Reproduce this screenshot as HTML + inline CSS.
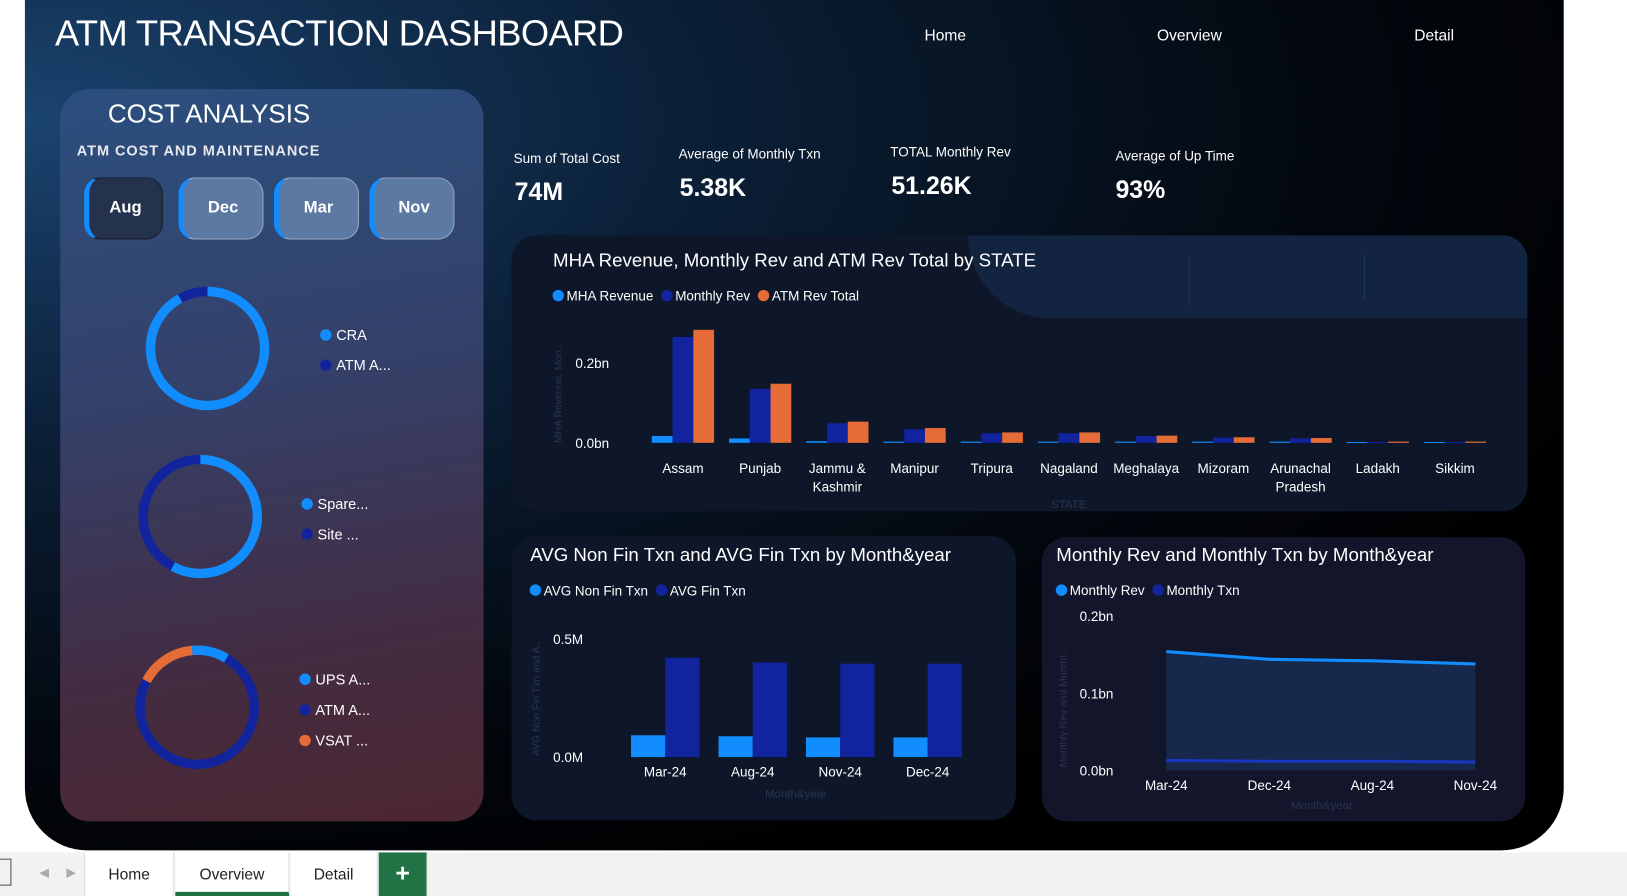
<!DOCTYPE html>
<html><head><meta charset="utf-8"><style>
html,body{margin:0;padding:0;width:1627px;height:896px;overflow:hidden;background:#fff;font-family:"Liberation Sans",sans-serif;}
#stage{position:absolute;left:0;top:0;width:1568px;height:864px;transform:scale(1.03763,1.03704);transform-origin:0 0;}
.abs{position:absolute;}
#main{left:24px;top:-60px;width:1483px;height:880px;border-radius:60px;background:radial-gradient(ellipse at 0% 20%,#1b4470 0%,#0b2038 30%,#03080f 60%,#000 80%);}
.w{color:#fff;}
#left{left:58px;top:86px;width:408px;height:706px;border-radius:28px;background:linear-gradient(170deg,#2b4f7e 0%,#34416a 40%,#432c42 75%,#4c2630 100%);}
.btn{top:171px;width:76px;height:60px;border-radius:16px;border:1px solid #9aa8c0;background:#5b79a3;color:#fff;font-weight:bold;font-size:16px;display:flex;align-items:center;justify-content:center;box-sizing:border-box;border-left:5px solid #118dff;}
.panel{background:#0d1729;border-radius:24px;}
.kl{font-size:13px;color:#fff;}
.kv{font-size:24px;color:#fff;font-weight:bold;}
.nav{font-size:15px;color:#fff;top:26px;}
#tabs{left:0;top:822px;width:1568px;height:42px;background:#f3f2f1;}
.tab{top:822px;height:42px;font-size:15px;color:#222;display:flex;align-items:center;justify-content:center;background:#fff;border-right:1px solid #ddd;box-sizing:border-box;}
svg text{font-family:"Liberation Sans",sans-serif;}
</style></head><body>
<div id="stage">
<div id="main" class="abs"></div>
<div class="abs w" style="left:53px;top:13px;font-size:35px;letter-spacing:-0.6px">ATM TRANSACTION DASHBOARD</div>
<div class="abs nav" style="left:891px">Home</div>
<div class="abs nav" style="left:1115px">Overview</div>
<div class="abs nav" style="left:1363px">Detail</div>

<div id="left" class="abs"></div>
<div class="abs w" style="left:104px;top:96px;font-size:25px;">COST ANALYSIS</div>
<div class="abs" style="left:74px;top:137px;font-size:14px;font-weight:bold;color:#e8e8f0;letter-spacing:0.9px">ATM COST AND MAINTENANCE</div>
<div class="abs btn" style="left:81px;background:#24324d;border-color:#1a1a2a;border-left-color:#118dff">Aug</div>
<div class="abs btn" style="left:172px;width:82px">Dec</div>
<div class="abs btn" style="left:264px;width:82px">Mar</div>
<div class="abs btn" style="left:356px;width:82px">Nov</div>

<svg class="abs" style="left:0;top:0" width="470" height="800" id="donuts"></svg>

<div class="abs kl" style="left:495px;top:145px">Sum of Total Cost</div>
<div class="abs kv" style="left:496px;top:172px">74M</div>
<div class="abs kl" style="left:654px;top:141px">Average of Monthly Txn</div>
<div class="abs kv" style="left:655px;top:168px">5.38K</div>
<div class="abs kl" style="left:858px;top:139px">TOTAL Monthly Rev</div>
<div class="abs kv" style="left:859px;top:166px">51.26K</div>
<div class="abs kl" style="left:1075px;top:143px">Average of Up Time</div>
<div class="abs kv" style="left:1075px;top:170px">93%</div>

<div class="abs panel" style="left:493px;top:227px;width:979px;height:266px;overflow:hidden"><div style="position:absolute;left:440px;top:0;width:560px;height:80px;background:#132440;border-bottom-left-radius:80px"></div></div>
<svg class="abs" style="left:493px;top:227px" width="979" height="266" id="c1"></svg>
<div class="abs panel" style="left:493px;top:517px;width:486px;height:274px"></div>
<svg class="abs" style="left:493px;top:517px" width="486" height="274" id="c2"></svg>
<div class="abs panel" style="left:1004px;top:518px;width:466px;height:274px;background:#13152a"></div>
<svg class="abs" style="left:1004px;top:518px" width="466" height="274" id="c3"></svg>

<div id="tabs" class="abs"></div>
<div class="abs" style="left:0;top:828px;width:10px;height:24px;border:1px solid #555;border-left:none"></div>
<div class="abs" style="left:38px;top:834px;color:#aaa;font-size:12px">&#9664;</div>
<div class="abs" style="left:64px;top:834px;color:#aaa;font-size:12px">&#9654;</div>
<div class="abs tab" style="left:81px;width:87px;border-left:1px solid #ddd">Home</div>
<div class="abs tab" style="left:169px;width:110px;border-bottom:4px solid #217346;padding-top:4px">Overview</div>
<div class="abs tab" style="left:280px;width:84px">Detail</div>
<div class="abs tab" style="left:365px;width:47px;background:#217346;color:#fff;font-size:24px;font-weight:bold">+</div>
</div>
<script>
const NS="http://www.w3.org/2000/svg";
function mk(p,t,a,txt){const e=document.createElementNS(NS,t);for(const k in a)e.setAttribute(k,a[k]);if(txt!==undefined)e.textContent=txt;p.appendChild(e);return e;}
const C1="#118dff",C2="#12239e",C3="#e66c37";

// Chart 1 data
const states=["Assam","Punjab","Jammu &|Kashmir","Manipur","Tripura","Nagaland","Meghalaya","Mizoram","Arunachal|Pradesh","Ladakh","Sikkim"];
const mhaRev=[0.017,0.011,0.004,0.003,0.003,0.003,0.003,0.003,0.003,0.002,0.002];
const monthlyRev=[0.265,0.135,0.049,0.034,0.024,0.024,0.017,0.013,0.011,0.002,0.002];
const atmRevTotal=[0.283,0.148,0.053,0.037,0.026,0.026,0.018,0.014,0.012,0.003,0.003];
const ticks1=[0,0.2],tickLabels1=["0.0bn","0.2bn"];

// Chart 2 data
const months2=["Mar-24","Aug-24","Nov-24","Dec-24"];
const avgNonFin=[0.092,0.088,0.083,0.083];
const avgFin=[0.42,0.40,0.395,0.395];
const ticks2=[0,0.5],tickLabels2=["0.0M","0.5M"];

// Chart 3 data
const months3=["Mar-24","Dec-24","Aug-24","Nov-24"];
const revLine=[0.154,0.144,0.142,0.138];
const txnLine=[0.013,0.012,0.012,0.011];
const ticks3=[0,0.1,0.2],tickLabels3=["0.0bn","0.1bn","0.2bn"];

// Donut data
const donut1=[["CRA",C1,0.92],["ATM A...",C2,0.08]];
const donut2=[["Spare...",C1,0.58],["Site ...",C2,0.42]];
const donut3=[["UPS A...",C1,0.1],["ATM A...",C2,0.74],["VSAT ...",C3,0.16]];

function legend(svg,x,y,items){let cx=x;items.forEach(([t,c])=>{const d=mk(svg,"circle",{cx:cx+5,cy:y-4,r:5.5,fill:c});


const tx=mk(svg,"text",{x:cx+13,y:y+1,fill:"#fff","font-size":13},t);


cx+=13+tx.getComputedTextLength()+8;});}

// chart1
(function(){const s=document.getElementById("c1");
mk(s,"text",{x:40,y:30,fill:"#fff","font-size":18},"MHA Revenue, Monthly Rev and ATM Rev Total by STATE");
mk(s,"line",{x1:653,y1:20,x2:653,y2:68,stroke:"#1e3558"});mk(s,"line",{x1:822,y1:18,x2:822,y2:62,stroke:"#1e3558"});
legend(s,40,62,[["MHA Revenue",C1],["Monthly Rev",C2],["ATM Rev Total",C3]]);
const base=200,pp=77/0.2,x0=128,step=74.4;
const y=v=>base-v*pp;
ticks1.forEach((t,i)=>{const e=mk(s,"text",{x:94,y:y(t)+5,fill:"#fff","font-size":13,"text-anchor":"end"},tickLabels1[i]);});
mk(s,"text",{x:0,y:0,fill:"#2a3550","font-size":10,transform:"translate(48,200) rotate(-90)"},"MHA Revenue, Mon...");
mk(s,"text",{x:537,y:263,fill:"#2a3550","font-size":11,"text-anchor":"middle"},"STATE");
states.forEach((st,i)=>{const cx=x0+step*i+step/2;const bw=20;
[[mhaRev,C1,-30],[monthlyRev,C2,-10],[atmRevTotal,C3,10]].forEach(([arr,c,o])=>{const v=arr[i];
const r=mk(s,"rect",{x:cx+o,y:y(v),width:bw,height:Math.max(1,v*pp),fill:c});

});
st.split('|').forEach((ln,j)=>{const t=mk(s,"text",{x:cx,y:229+j*18,fill:"#fff","font-size":13,"text-anchor":"middle"},ln);});});
})();

// chart2
(function(){const s=document.getElementById("c2");
mk(s,"text",{x:18,y:24,fill:"#fff","font-size":18},"AVG Non Fin Txn and AVG Fin Txn by Month&year");
legend(s,18,56,[["AVG Non Fin Txn",C1],["AVG Fin Txn",C2]]);
const base=213,pp=114/0.5,x0=106,step=84.3;const y=v=>base-v*pp;
ticks2.forEach((t,i)=>{const e=mk(s,"text",{x:69,y:y(t)+5,fill:"#fff","font-size":13,"text-anchor":"end"},tickLabels2[i]);});
mk(s,"text",{x:0,y:0,fill:"#2a3550","font-size":10,transform:"translate(27,212) rotate(-90)"},"AVG Non Fin Txn and A...");
mk(s,"text",{x:274,y:252,fill:"#2a3550","font-size":11,"text-anchor":"middle"},"Month&year");
months2.forEach((m,i)=>{const cx=x0+step*i+step/2;
[[avgNonFin,C1,-33],[avgFin,C2,0]].forEach(([arr,c,o])=>{const v=arr[i];
const r=mk(s,"rect",{x:cx+o,y:y(v),width:33,height:v*pp,fill:c});

});
const t=mk(s,"text",{x:cx,y:232,fill:"#fff","font-size":13,"text-anchor":"middle"},m);});
})();

// chart3
(function(){const s=document.getElementById("c3");
mk(s,"text",{x:14,y:23,fill:"#fff","font-size":18},"Monthly Rev and Monthly Txn by Month&year");
legend(s,14,55,[["Monthly Rev",C1],["Monthly Txn",C2]]);
const base=225,pp=74.5/0.1,x0=120,step=99.3;const y=v=>base-v*pp;const x=i=>x0+step*i;
ticks3.forEach((t,i)=>{const e=mk(s,"text",{x:69,y:y(t)+5,fill:"#fff","font-size":13,"text-anchor":"end"},tickLabels3[i]);});
mk(s,"text",{x:0,y:0,fill:"#2a3550","font-size":10,transform:"translate(24,222) rotate(-90)"},"Monthly Rev and Monthl...");
mk(s,"text",{x:270,y:262,fill:"#2a3550","font-size":11,"text-anchor":"middle"},"Month&year");
let a="M"+x(0)+","+base;revLine.forEach((v,i)=>a+=" L"+x(i)+","+y(v));a+=" L"+x(revLine.length-1)+","+base+"Z";
const ar=mk(s,"path",{d:a,fill:"#16294d",opacity:0.95});
const l1=mk(s,"polyline",{points:revLine.map((v,i)=>x(i)+","+y(v)).join(" "),fill:"none",stroke:C1,"stroke-width":3});

const l2=mk(s,"polyline",{points:txnLine.map((v,i)=>x(i)+","+y(v)).join(" "),fill:"none",stroke:"#1a35c0","stroke-width":3});

months3.forEach((m,i)=>{const t=mk(s,"text",{x:x(i),y:244,fill:"#fff","font-size":13,"text-anchor":"middle"},m);});
})();

// donuts
(function(){const s=document.getElementById("donuts");
function donut(cx,cy,r,data,start,lx,ly,gap){let a0=start;
data.forEach(([lab,c,f],i)=>{const a1=a0+f*360;const p=(a)=>[cx+r*Math.sin(a*Math.PI/180),cy-r*Math.cos(a*Math.PI/180)];
const [x1,y1]=p(a0),[x2,y2]=p(a1);
const seg=mk(s,"path",{d:`M${x1},${y1} A${r},${r} 0 ${f>0.5?1:0} 1 ${x2},${y2}`,fill:"none",stroke:c,"stroke-width":9});

a0=a1;
const m=mk(s,"circle",{cx:lx,cy:ly+i*gap-5,r:5.5,fill:c});
const t=mk(s,"text",{x:lx+10,y:ly+i*gap,fill:"#fff","font-size":14},lab);});}
donut(200,336,55,donut1,0,314,328,29);
donut(193,498,55,donut2,0,296,491,29);
donut(190,682,55,donut3,-5,294,660,29.5);
})();
</script>
</body></html>
